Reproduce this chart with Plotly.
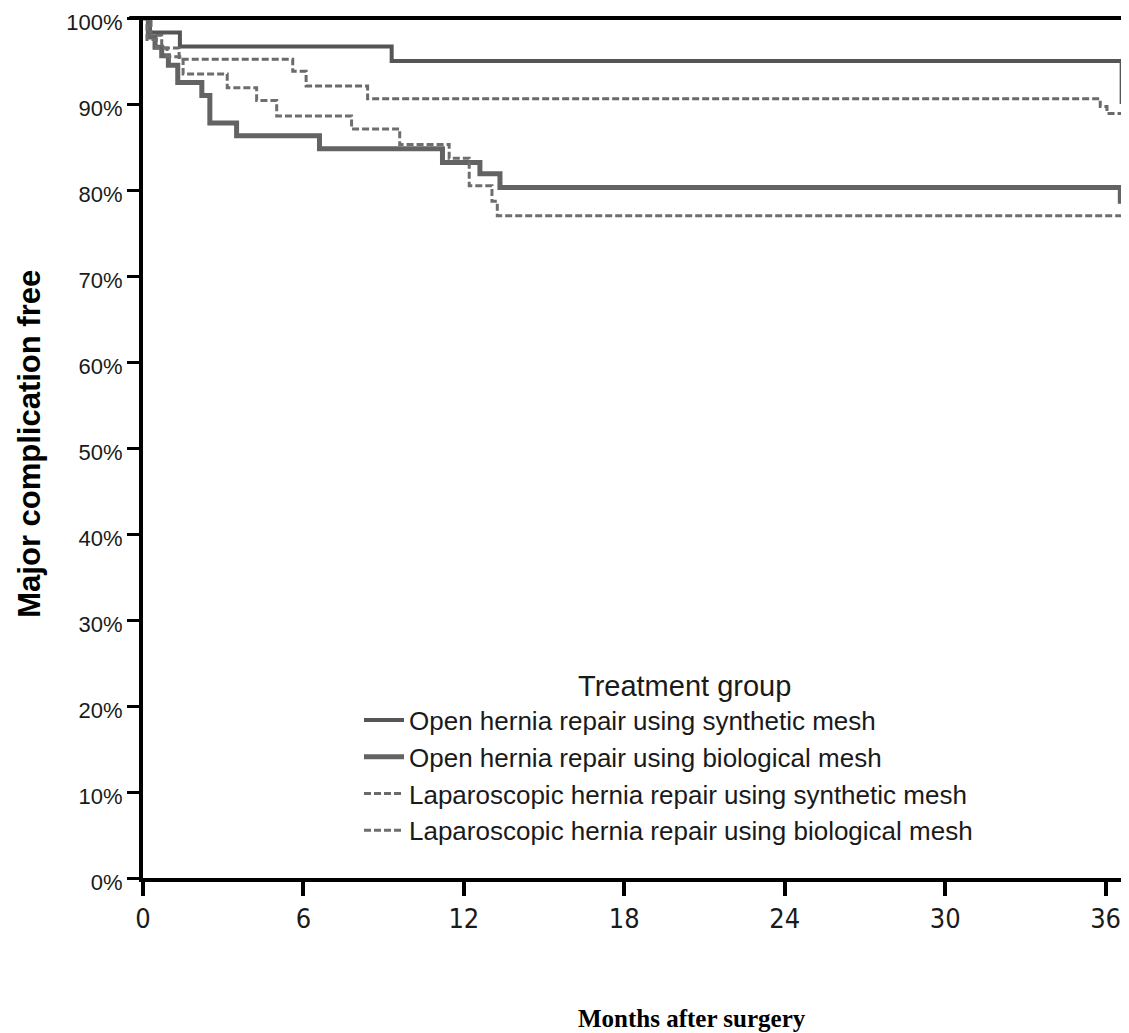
import plotly.graph_objects as go

# ---- data (months, % major-complication free) ----
series_names = [
    "Open hernia repair using synthetic mesh",
    "Open hernia repair using biological mesh",
    "Laparoscopic hernia repair using synthetic mesh",
    "Laparoscopic hernia repair using biological mesh",
]

open_syn_t = [0, 0.26, 1.38, 9.3, 36.6]
open_syn_s = [100, 98.3, 96.7, 95.0, 90.0]

open_bio_t = [0, 0.2, 0.45, 0.7, 0.95, 1.3, 2.2, 2.5, 3.5, 6.6, 11.2, 12.6, 13.35, 36.55]
open_bio_s = [100, 97.8, 96.6, 95.6, 94.5, 92.5, 91.0, 87.8, 86.3, 84.8, 83.2, 81.9, 80.3, 78.4]

lap_syn_t = [0, 0.3, 0.7, 1.35, 5.6, 6.1, 8.4, 35.8, 36.05, 36.6]
lap_syn_s = [100, 98.0, 96.5, 95.2, 93.8, 92.1, 90.6, 89.7, 88.9, 88.9]

lap_bio_t = [0, 0.15, 0.5, 0.9, 1.5, 3.15, 4.25, 5.0, 7.8, 9.6, 11.45, 12.2, 13.05, 13.25, 36.65]
lap_bio_s = [100, 97.5, 96.5, 95.5, 93.5, 91.9, 90.4, 88.6, 87.1, 85.3, 83.7, 80.5, 78.7, 77.0, 72.1]

x_ticks = [0, 6, 12, 18, 24, 30, 36]
y_ticks = [0, 10, 20, 30, 40, 50, 60, 70, 80, 90, 100]
y_ticklabels = [f"{v}%" for v in y_ticks]

times = [open_syn_t, open_bio_t, lap_syn_t, lap_bio_t]
surv = [open_syn_s, open_bio_s, lap_syn_s, lap_bio_s]
colors = ["#555555", "#636363", "#6a6a6a", "#6e6e6e"]
widths = [4, 5, 3, 3]
dashes = ["solid", "solid", "7px,3px", "7px,3px"]

fig = go.Figure()
for name, t, s, c, w, d in zip(series_names, times, surv, colors, widths, dashes):
    fig.add_trace(go.Scatter(
        x=t, y=s, mode="lines", name=name,
        line=dict(color=c, width=w, dash=d, shape="hv"),
    ))

# the page body has an 8px margin, so the figure is sized to fit the window
fig.update_layout(
    width=1121, height=1025,
    margin=dict(l=135, r=2, t=10, b=155, autoexpand=False),
    plot_bgcolor="white", paper_bgcolor="white",
    font=dict(family="Liberation Sans, Arial, sans-serif", color="#1a1a1a"),
    showlegend=True,
    legend=dict(
        x=0.2195, y=0.211, xanchor="left", yanchor="top",
        bgcolor="rgba(0,0,0,0)",
        font=dict(size=26, family="Liberation Sans, Arial, sans-serif", color="#1a1a1a"),
        itemwidth=40, tracegroupgap=0,
    ),
)

fig.update_xaxes(
    range=[0, 36.8], tickvals=x_ticks, ticktext=[str(v) for v in x_ticks],
    showgrid=False, zeroline=False, automargin=False,
    showline=True, linecolor="black", linewidth=4,
    ticks="outside", ticklen=14, tickwidth=4, tickcolor="black",
    tickfont=dict(size=27, family="Liberation Sans Narrow, Arial Narrow, DejaVu Sans Condensed, Liberation Sans, sans-serif", color="#1a1a1a"),
)
fig.update_yaxes(
    range=[0, 100], tickvals=y_ticks, ticktext=y_ticklabels,
    showgrid=False, zeroline=False, automargin=False,
    showline=True, linecolor="black", linewidth=4,
    ticks="outside", ticklen=12, tickwidth=3, tickcolor="black",
    ticklabeloverflow="allow", ticklabelshift=4,
    tickfont=dict(size=22, family="Liberation Sans, Arial, sans-serif", color="#1a1a1a"),
)

# top frame line
fig.add_shape(type="line", xref="paper", yref="paper", x0=-0.014, x1=1.01, y0=1, y1=1,
              line=dict(color="black", width=4))

# y-axis title
fig.add_annotation(
    text="<b>Major complication free</b>", xref="paper", yref="paper",
    x=-0.1148, y=0.505, xanchor="center", yanchor="middle", showarrow=False,
    textangle=-90,
    font=dict(size=31, family="Liberation Sans, Arial, sans-serif", color="black"),
)

# legend heading
fig.add_annotation(
    text="Treatment group", xref="paper", yref="paper",
    x=0.5498, y=0.223, xanchor="center", yanchor="middle", showarrow=False,
    font=dict(size=29, family="Liberation Sans, Arial, sans-serif", color="#1a1a1a"),
)

fig.add_annotation(
    text="<b>Months after surgery</b>", xref="paper", yref="paper",
    x=0.558, y=-0.163, xanchor="center", yanchor="middle", showarrow=False,
    font=dict(size=25, family="Liberation Serif, Times New Roman, serif", color="black"),
)

fig.write_html("out.html")
